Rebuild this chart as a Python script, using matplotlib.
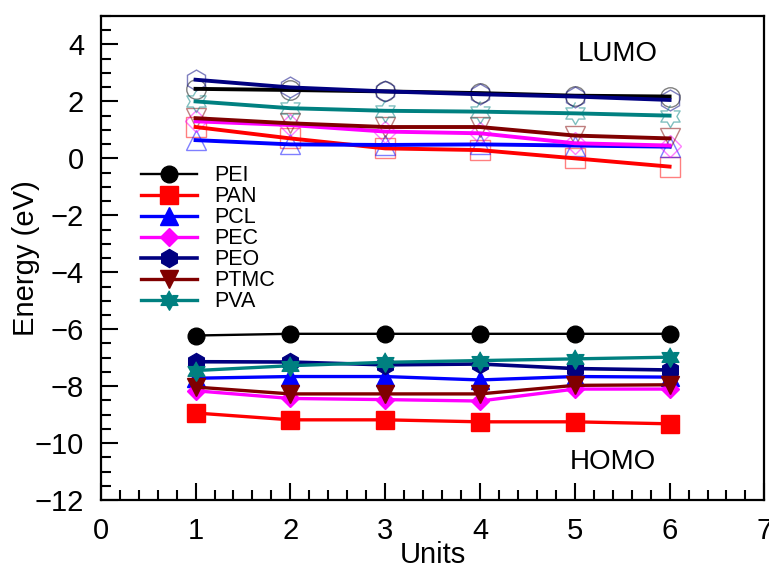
import numpy as np
import matplotlib
matplotlib.use("Agg")
import matplotlib.pyplot as plt
from matplotlib.colors import to_rgba
from matplotlib.ticker import MultipleLocator

plt.rcParams["font.family"] = ["Liberation Sans", "DejaVu Sans"]

units = [1, 2, 3, 4, 5, 6]
names = ["PEI", "PAN", "PCL", "PEC", "PEO", "PTMC", "PVA"]

# LUMO levels (eV)
pei_lumo = [2.44, 2.40, 2.35, 2.29, 2.20, 2.17]
pan_lumo = [1.10, 0.70, 0.35, 0.29, 0.00, -0.29]
pcl_lumo = [0.64, 0.49, 0.47, 0.49, 0.45, 0.41]
pec_lumo = [1.30, 1.17, 0.94, 0.88, 0.53, 0.45]
peo_lumo = [2.76, 2.49, 2.35, 2.25, 2.17, 2.05]
ptmc_lumo = [1.41, 1.23, 1.10, 1.10, 0.80, 0.70]
pva_lumo = [2.00, 1.76, 1.67, 1.64, 1.58, 1.50]

# HOMO levels (eV)
pei_homo = [-6.22, -6.16, -6.16, -6.16, -6.16, -6.16]
pan_homo = [-8.94, -9.18, -9.18, -9.25, -9.25, -9.32]
pcl_homo = [-7.72, -7.66, -7.66, -7.78, -7.66, -7.68]
pec_homo = [-8.16, -8.43, -8.47, -8.52, -8.10, -8.10]
peo_homo = [-7.14, -7.15, -7.25, -7.22, -7.38, -7.43]
ptmc_homo = [-8.03, -8.27, -8.27, -8.27, -7.97, -7.95]
pva_homo = [-7.45, -7.28, -7.16, -7.10, -7.04, -6.98]

lumo = [pei_lumo, pan_lumo, pcl_lumo, pec_lumo, peo_lumo, ptmc_lumo, pva_lumo]
homo = [pei_homo, pan_homo, pcl_homo, pec_homo, peo_homo, ptmc_homo, pva_homo]

# six-pointed star marker
ang = np.deg2rad(90 + 30 * np.arange(12))
rad = np.where(np.arange(12) % 2 == 0, 1.0, 1 / np.sqrt(3))
star6 = list(zip(rad * np.cos(ang), rad * np.sin(ang)))

colors = ["black", "#ff0000", "#0000ff", "#ff00ff", "#000080", "#800000", "#008080"]
markers = ["o", "s", "^", "D", "h", "v", star6]
msizes = [12, 13, 13, 9, 13, 13, 14]
lwidths = [1.7, 2.4, 2.4, 2.4, 2.6, 2.4, 2.4]

fig = plt.figure(figsize=(7.69, 5.69), dpi=100)
ax = fig.add_axes([0.131, 0.121, 0.863, 0.851])

handles = []
for i in range(len(names)):
    # LUMO: faded hollow markers, solid line on top
    ax.plot(units, lumo[i], linestyle="none", marker=markers[i],
            markersize=msizes[i] + 2, markerfacecolor="none",
            markeredgecolor=to_rgba(colors[i], 0.5), markeredgewidth=1.0,
            zorder=2)
    ax.plot(units, lumo[i], color=colors[i], linewidth=2.8, zorder=3)
    # HOMO: filled markers
    h, = ax.plot(units, homo[i], color=colors[i], linewidth=lwidths[i],
                 marker=markers[i], markersize=msizes[i],
                 markerfacecolor=colors[i], markeredgecolor=colors[i],
                 label=names[i], zorder=4)
    handles.append(h)

ax.set_xlim(0, 7)
ax.set_ylim(-12, 5)
ax.set_xticks(range(0, 8))
ax.set_yticks(range(-12, 5, 2))
ax.xaxis.set_minor_locator(MultipleLocator(0.2))
ax.yaxis.set_minor_locator(MultipleLocator(0.5))
ax.tick_params(which="both", direction="in", top=False, right=False,
               labelsize=21, width=1.5, pad=12)
ax.tick_params(which="major", length=12)
ax.tick_params(which="minor", length=7)
for sp in ax.spines.values():
    sp.set_linewidth(1.6)

ax.set_xlabel("Units", fontsize=21, labelpad=-3)
ax.set_ylabel("Energy (eV)", fontsize=21, labelpad=-4)

ax.text(5.45, 3.65, "LUMO", fontsize=20, ha="center", va="center")
ax.text(5.4, -10.65, "HOMO", fontsize=20, ha="center", va="center")

ax.legend(handles=handles, loc="upper left", bbox_to_anchor=(0.06, 0.692),
          frameon=False, fontsize=15.5, labelspacing=0.0, handlelength=2.6,
          handletextpad=0.8, borderpad=0, borderaxespad=0)

fig.savefig("out.png", dpi=100)
